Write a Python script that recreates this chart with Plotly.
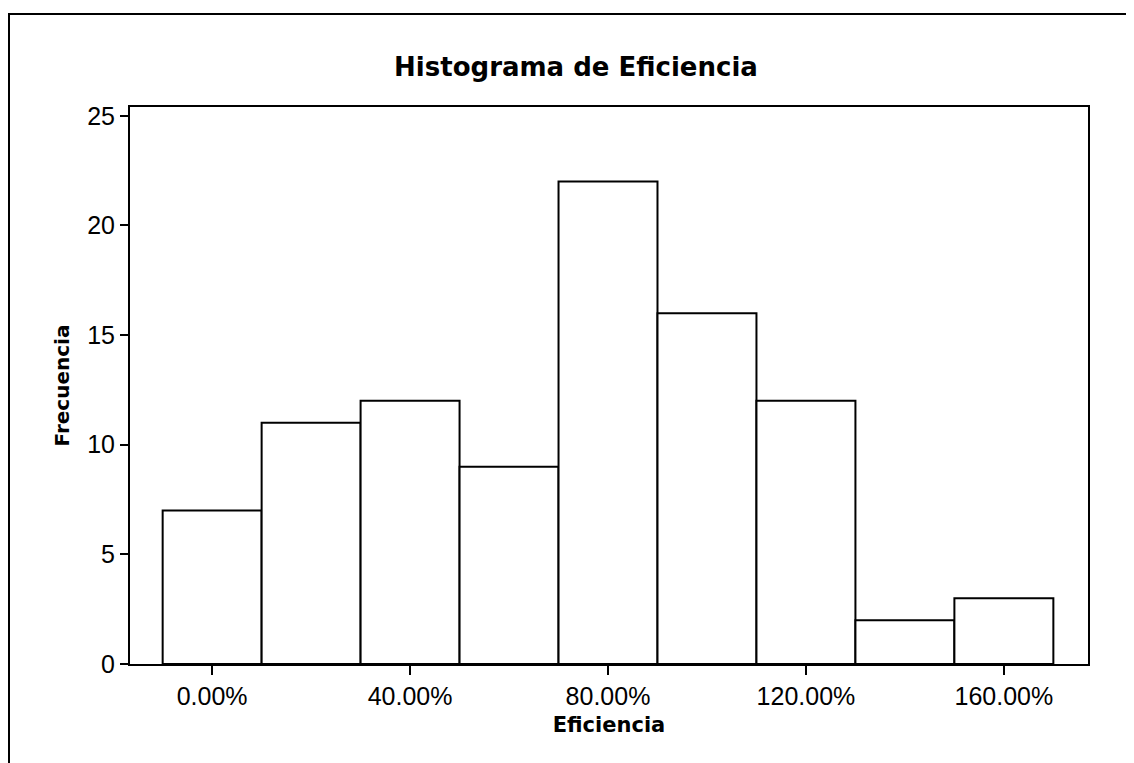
import plotly.graph_objects as go

bin_centers = [0, 20, 40, 60, 80, 100, 120, 140, 160]
frequencies = [7, 11, 12, 9, 22, 16, 12, 2, 3]
x_tick_vals = [0, 40, 80, 120, 160]
x_tick_text = ["0.00%", "40.00%", "80.00%", "120.00%", "160.00%"]
y_tick_vals = [0, 5, 10, 15, 20, 25]

fig = go.Figure(go.Bar(
    x=bin_centers, y=frequencies, width=20,
    marker=dict(color="white", line=dict(color="black", width=2)),
))

OFF = 8  # page body margin
W, H = 1134, 763
L, R, T, B = 130 - OFF, 1088 - OFF, 107 - OFF, 664 - OFF
pw, ph = R - L, B - T
tickfont = dict(size=25, family="Liberation Sans", color="black")

fig.update_layout(
    width=W, height=H,
    margin=dict(l=L, r=W - R, t=T, b=H - B),
    paper_bgcolor="white", plot_bgcolor="white",
    showlegend=False,
    font=dict(family="DejaVu Sans", color="black"),
    title=dict(text="<b>Histograma de Eficiencia</b>", x=(576 - OFF) / W, xanchor="center",
               y=1 - (67 - OFF) / H, yanchor="middle",
               font=dict(size=26, family="DejaVu Sans", color="black")),
    xaxis=dict(range=[-16.6, 177], tickvals=x_tick_vals, ticktext=x_tick_text,
               ticks="outside", ticklen=9, tickwidth=2, tickcolor="black",
               showline=True, linecolor="black", linewidth=2, mirror=True,
               showgrid=False, zeroline=False,
               tickfont=tickfont,
               title=dict(text="<b>Eficiencia</b>", font=dict(size=21, family="DejaVu Sans"), standoff=8)),
    yaxis=dict(range=[0, 25.4], tickvals=y_tick_vals,
               ticks="outside", ticklen=8, tickwidth=2, tickcolor="black",
               showline=True, linecolor="black", linewidth=2, mirror=True,
               showgrid=False, zeroline=False,
               tickfont=tickfont,
               title=dict(text="<b>Frecuencia</b>", font=dict(size=20, family="DejaVu Sans"), standoff=12)),
    shapes=[dict(type="rect", xref="paper", yref="paper",
                 x0=(9 - OFF - L) / pw, x1=(1150 - L) / pw,
                 y0=(B - 790) / ph, y1=(B - (14 - OFF)) / ph,
                 line=dict(color="black", width=2), fillcolor="rgba(0,0,0,0)", layer="below")],
)

fig.write_html("out.html")
